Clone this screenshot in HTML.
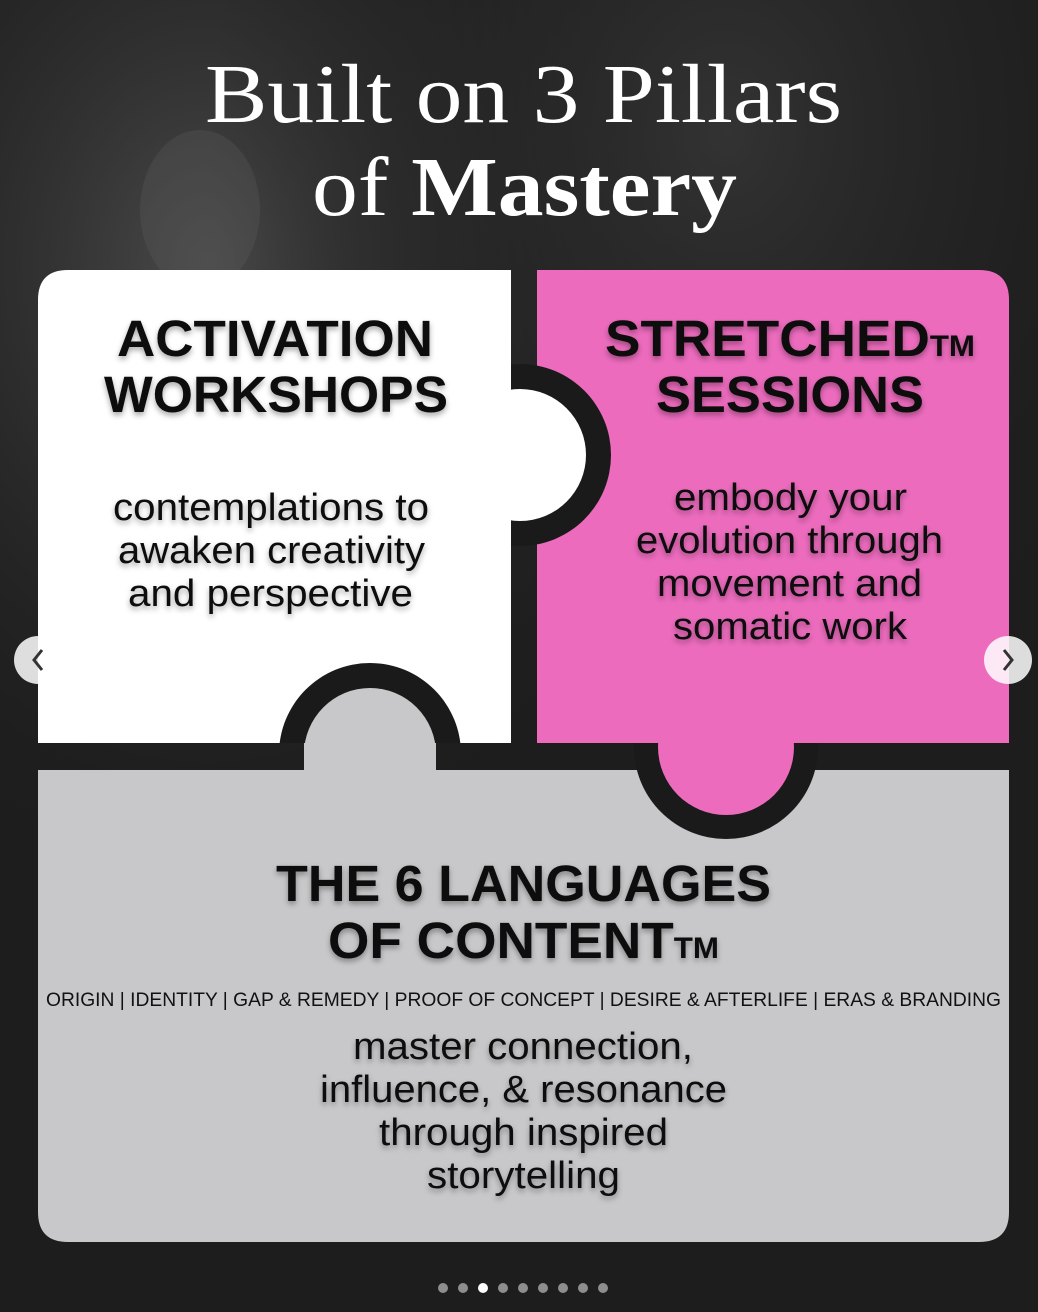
<!DOCTYPE html>
<html><head><meta charset="utf-8"><style>
html,body{margin:0;padding:0;width:1038px;height:1312px;overflow:hidden;background:#1c1c1c}
svg{display:block}
.h{font-family:"Liberation Sans",sans-serif;font-weight:bold;font-size:51px;fill:#0a0a0a}
.b{font-family:"Liberation Sans",sans-serif;font-size:38px;fill:#111}
.sh{filter:url(#ts)}
</style></head><body>
<svg width="1038" height="1312" viewBox="0 0 1038 1312" xmlns="http://www.w3.org/2000/svg">
<defs>
<radialGradient id="g1" cx="0.2" cy="0.2" r="0.5"><stop offset="0" stop-color="#4a4a4a"/><stop offset="1" stop-color="#1c1c1c" stop-opacity="0"/></radialGradient>
<radialGradient id="g2" cx="0.7" cy="0.1" r="0.5"><stop offset="0" stop-color="#333"/><stop offset="1" stop-color="#1c1c1c" stop-opacity="0"/></radialGradient>
<filter id="ts" x="-10%" y="-30%" width="120%" height="160%"><feDropShadow dx="0" dy="3" stdDeviation="3" flood-color="#000" flood-opacity="0.35"/></filter>
<clipPath id="cw"><rect x="0" y="0" width="1038" height="743"/></clipPath>
</defs>
<rect width="1038" height="1312" fill="#1d1d1d"/>
<rect width="1038" height="1312" fill="url(#g1)"/>
<rect width="1038" height="1312" fill="url(#g2)"/>
<ellipse cx="200" cy="210" rx="60" ry="80" fill="#5a5a5a" opacity="0.35"/>

<text x="205" y="122" font-family="Liberation Serif,serif" font-size="84" fill="#fff" textLength="637" lengthAdjust="spacingAndGlyphs">Built on 3 Pillars</text>
<text x="312" y="215" font-family="Liberation Serif,serif" font-size="84" fill="#fff" textLength="425" lengthAdjust="spacingAndGlyphs">of <tspan font-weight="bold">Mastery</tspan></text>

<path d="M38 770 H1009 V1212 Q1009 1242 979 1242 H68 Q38 1242 38 1212 Z" fill="#c8c8ca"/>
<circle cx="726" cy="747" r="92" fill="#1a1a1a"/>
<path d="M537 270 H979 Q1009 270 1009 300 V743 H537 Z" fill="#ec6bbd"/>
<circle cx="726" cy="747" r="68" fill="#ec6bbd"/>
<circle cx="520" cy="455" r="91" fill="#1a1a1a"/>
<path d="M68 270 H511 V743 H38 V300 Q38 270 68 270 Z" fill="#fff"/>
<circle cx="520" cy="455" r="66" fill="#fff"/>
<circle cx="370" cy="754" r="91" fill="#1a1a1a" clip-path="url(#cw)"/>
<circle cx="370" cy="754" r="66" fill="#c8c8ca"/>
<rect x="304" y="743" width="132" height="30" fill="#c8c8ca"/>

<g class="sh">
<text class="h" x="117" y="356" textLength="316" lengthAdjust="spacingAndGlyphs">ACTIVATION</text>
<text class="h" x="104" y="412" textLength="344" lengthAdjust="spacingAndGlyphs">WORKSHOPS</text>
<text class="b" x="113" y="520" textLength="316" lengthAdjust="spacingAndGlyphs">contemplations to</text>
<text class="b" x="118" y="563" textLength="307" lengthAdjust="spacingAndGlyphs">awaken creativity</text>
<text class="b" x="128" y="606" textLength="285" lengthAdjust="spacingAndGlyphs">and perspective</text>

<text class="h" x="605" y="356" textLength="370" lengthAdjust="spacingAndGlyphs">STRETCHED<tspan font-size="30">TM</tspan></text>
<text class="h" x="656" y="412" textLength="268" lengthAdjust="spacingAndGlyphs">SESSIONS</text>
<text class="b" x="674" y="510" textLength="233" lengthAdjust="spacingAndGlyphs">embody your</text>
<text class="b" x="636" y="553" textLength="307" lengthAdjust="spacingAndGlyphs">evolution through</text>
<text class="b" x="657" y="596" textLength="265" lengthAdjust="spacingAndGlyphs">movement and</text>
<text class="b" x="673" y="639" textLength="234" lengthAdjust="spacingAndGlyphs">somatic work</text>

<text class="h" x="276" y="901" textLength="495" lengthAdjust="spacingAndGlyphs">THE 6 LANGUAGES</text>
<text class="h" x="328" y="958" textLength="391" lengthAdjust="spacingAndGlyphs">OF CONTENT<tspan font-size="30">TM</tspan></text>
<text class="b" x="353" y="1059" textLength="340" lengthAdjust="spacingAndGlyphs">master connection,</text>
<text class="b" x="320" y="1102" textLength="407" lengthAdjust="spacingAndGlyphs">influence, &amp; resonance</text>
<text class="b" x="379" y="1145" textLength="289" lengthAdjust="spacingAndGlyphs">through inspired</text>
<text class="b" x="427" y="1188" textLength="193" lengthAdjust="spacingAndGlyphs">storytelling</text>
</g>
<text x="46" y="1006" font-family="Liberation Sans,sans-serif" font-size="19" fill="#111" textLength="955" lengthAdjust="spacingAndGlyphs">ORIGIN | IDENTITY | GAP &amp; REMEDY | PROOF OF CONCEPT | DESIRE &amp; AFTERLIFE | ERAS &amp; BRANDING</text>

<circle cx="38" cy="660" r="24" fill="#fff" opacity="0.85"/>
<path d="M42 650 L34 660 L42 670" stroke="#333" stroke-width="3" fill="none"/>
<circle cx="1008" cy="660" r="24" fill="#fff" opacity="0.85"/>
<path d="M1004 650 L1012 660 L1004 670" stroke="#333" stroke-width="3" fill="none"/>

<g fill="#fff" opacity="0.5">
<circle cx="443" cy="1288" r="5"/><circle cx="463" cy="1288" r="5"/>
<circle cx="503" cy="1288" r="5"/><circle cx="523" cy="1288" r="5"/><circle cx="543" cy="1288" r="5"/>
<circle cx="563" cy="1288" r="5"/><circle cx="583" cy="1288" r="5"/><circle cx="603" cy="1288" r="5"/>
</g>
<circle cx="483" cy="1288" r="5" fill="#fff"/>
</svg>
</body></html>
